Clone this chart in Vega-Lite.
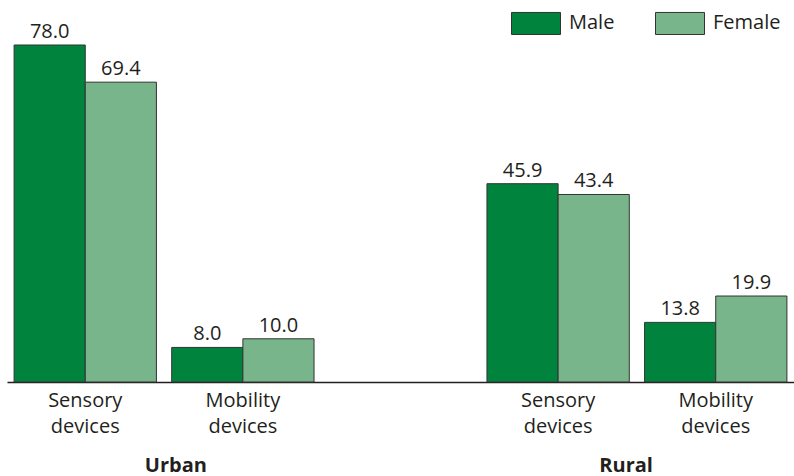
{
  "$schema": "https://vega.github.io/schema/vega-lite/v6.json",
  "width": 787,
  "height": 337,
  "autosize": {"type": "none"},
  "padding": {"left": 7, "top": 45, "right": 0, "bottom": 94},
  "config": {
    "view": {"stroke": null},
    "font": "Open Sans",
    "axis": {"grid": false}
  },
  "data": {
    "values": [
      {"slot": "Urban Sensory devices", "area": "Urban", "device": "Sensory devices", "sex": "Male", "value": 78.0},
      {"slot": "Urban Sensory devices", "area": "Urban", "device": "Sensory devices", "sex": "Female", "value": 69.4},
      {"slot": "Urban Mobility devices", "area": "Urban", "device": "Mobility devices", "sex": "Male", "value": 8.0},
      {"slot": "Urban Mobility devices", "area": "Urban", "device": "Mobility devices", "sex": "Female", "value": 10.0},
      {"slot": "Rural Sensory devices", "area": "Rural", "device": "Sensory devices", "sex": "Male", "value": 45.9},
      {"slot": "Rural Sensory devices", "area": "Rural", "device": "Sensory devices", "sex": "Female", "value": 43.4},
      {"slot": "Rural Mobility devices", "area": "Rural", "device": "Mobility devices", "sex": "Male", "value": 13.8},
      {"slot": "Rural Mobility devices", "area": "Rural", "device": "Mobility devices", "sex": "Female", "value": 19.9}
    ]
  },
  "layer": [
    {
      "encoding": {
        "x": {
          "field": "slot",
          "type": "nominal",
          "sort": null,
          "scale": {
            "domain": ["Urban Sensory devices", "Urban Mobility devices", "gap", "Rural Sensory devices", "Rural Mobility devices"],
            "paddingInner": 0.097,
            "paddingOuter": 0.045
          },
          "axis": {
            "orient": "bottom",
            "title": null,
            "ticks": false,
            "domainColor": "#231F20",
            "domainWidth": 1.5,
            "labelAngle": 0,
            "labelFontSize": 20,
            "labelColor": "#231F20",
            "labelLineHeight": 26,
            "labelPadding": 8,
            "labelExpr": "datum.value == 'gap' ? '' : [split(datum.value, ' ')[1], 'devices']"
          }
        },
        "xOffset": {
          "field": "sex",
          "type": "nominal",
          "scale": {"domain": ["Male", "Female"], "paddingInner": 0, "paddingOuter": 0}
        },
        "y": {
          "field": "value",
          "type": "quantitative",
          "scale": {"domain": [0, 78], "nice": false, "zero": true},
          "axis": null
        }
      },
      "layer": [
        {
          "mark": {"type": "bar", "stroke": "#333333", "strokeWidth": 1},
          "encoding": {
            "color": {
              "field": "sex",
              "type": "nominal",
              "scale": {"domain": ["Male", "Female"], "range": ["#00843D", "#79B58B"]},
              "legend": {
                "title": null,
                "orient": "none",
                "direction": "horizontal",
                "legendX": 504,
                "legendY": -47,
                "symbolType": "M-1,-0.45H1V0.45H-1Z",
                "symbolSize": 2401,
                "symbolStrokeColor": "#333333",
                "symbolStrokeWidth": 1,
                "symbolOpacity": 1,
                "labelFontSize": 20,
                "labelColor": "#231F20",
                "labelOffset": 8,
                "columnPadding": 38
              }
            }
          }
        },
        {
          "mark": {"type": "text", "baseline": "bottom", "dy": -3, "fontSize": 20, "color": "#231F20"},
          "encoding": {
            "text": {"field": "value", "type": "quantitative", "format": ".1f"}
          }
        }
      ]
    },
    {
      "mark": {"type": "point", "opacity": 0},
      "encoding": {
        "x": {
          "field": "area",
          "type": "nominal",
          "sort": null,
          "scale": {"type": "point", "domain": ["Urban", "Rural"], "padding": 0.374},
          "axis": {
            "orient": "bottom",
            "title": null,
            "ticks": false,
            "domain": false,
            "labelAngle": 0,
            "labelFontSize": 20,
            "labelFontWeight": "bold",
            "labelColor": "#231F20",
            "labelPadding": 73
          }
        }
      }
    }
  ],
  "resolve": {"scale": {"x": "independent"}, "axis": {"x": "independent"}}
}
